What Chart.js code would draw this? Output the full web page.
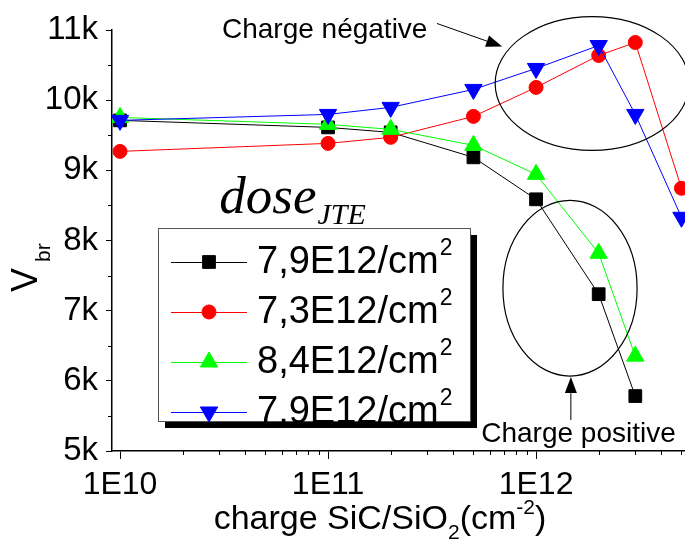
<!DOCTYPE html>
<html>
<head>
<meta charset="utf-8">
<script src="https://cdn.jsdelivr.net/npm/chart.js@4/dist/chart.umd.min.js"></script>
<style>
  html, body { margin: 0; padding: 0; background: #fff; }
  #wrap { width: 685px; height: 542px; }
</style>
</head>
<body>
<div id="wrap"><canvas id="chart" width="685" height="542"></canvas></div>
<script>
// charge SiC/SiO2 (cm-2)
const chargeShort = [1e10, 1e11, 2e11, 5e11, 1e12, 2e12, 3e12];
const chargeLong = [1e10, 1e11, 2e11, 5e11, 1e12, 2e12, 3e12, 5e12];

// Vbr (V) per JTE dose
const vbrBlack = [9712, 9612, 9541, 9185, 8587, 7235, 5783];
const vbrRed = [9270, 9384, 9470, 9769, 10182, 10637, 10822, 8744];
const vbrGreen = [9754, 9655, 9584, 9356, 8943, 7818, 6352];
const vbrBlue = [9712, 9797, 9897, 10153, 10452, 10779, 9797, 8331];

const doseLabels = ["7,9E12", "7,3E12", "8,4E12", "7,9E12"];
const xTickValues = [1e10, 1e11, 1e12];
const xTickLabels = ["1E10", "1E11", "1E12"];

const SANS = '"Liberation Sans", Arial, sans-serif';
const SERIF = '"Liberation Serif", "Times New Roman", serif';

// annotation shapes, in data units (charge, volts)
const ellipseNeg = { xMin: 6.36e11, xMax: 5.44e12, yMin: 9285, yMax: 11192 };
const ellipsePos = { xMin: 6.93e11, xMax: 3.06e12, yMin: 6068, yMax: 8573 };
const arrowNeg = { x1: 3.34e11, y1: 11093, x2: 6.87e11, y2: 10765 };
const arrowPos = { x1: 1.47e12, y1: 5441, x2: 1.47e12, y2: 6053 };
const textNeg = { x: 3.09e10, y: 10893, text: "Charge négative" };
const textPos = { x: 5.45e11, y: 5128, text: "Charge positive" };
const textDose = { x: 3.0e10, y: 8388 };

function pts(xs, ys) {
  return ys.map((v, i) => ({ x: xs[i], y: v }));
}

const seriesStyle = [
  { color: "#000000", style: "rect", radius: 9, rotation: 0 },
  { color: "#ff0000", style: "circle", radius: 7, rotation: 0 },
  { color: "#00ff00", style: "triangle", radius: 10, rotation: 0 },
  { color: "#0000ff", style: "triangle", radius: 10, rotation: 180 },
];

const seriesData = [
  pts(chargeShort, vbrBlack),
  pts(chargeLong, vbrRed),
  pts(chargeShort, vbrGreen),
  pts(chargeLong, vbrBlue),
];

const datasets = seriesData.map((data, i) => {
  const s = seriesStyle[i];
  return {
    label: doseLabels[i],
    data,
    order: 3 - i,
    borderColor: s.color,
    backgroundColor: s.color,
    borderWidth: 1,
    tension: 0,
    pointStyle: s.style,
    pointRotation: s.rotation,
    pointRadius: s.radius,
    pointHoverRadius: s.radius,
    pointBorderWidth: 1,
    pointBorderColor: s.color,
    pointBackgroundColor: s.color,
  };
});

function arrow(ctx, x1, y1, x2, y2) {
  const ang = Math.atan2(y2 - y1, x2 - x1);
  const len = 16, half = 6;
  const bx = x2 - Math.cos(ang) * len, by = y2 - Math.sin(ang) * len;
  ctx.beginPath();
  ctx.moveTo(x1, y1);
  ctx.lineTo(bx, by);
  ctx.stroke();
  ctx.beginPath();
  ctx.moveTo(x2, y2);
  ctx.lineTo(bx + Math.sin(ang) * half, by - Math.cos(ang) * half);
  ctx.lineTo(bx - Math.sin(ang) * half, by + Math.cos(ang) * half);
  ctx.closePath();
  ctx.fill();
}

function ellipse(ctx, x, y, e) {
  const l = x.getPixelForValue(e.xMin), r = x.getPixelForValue(e.xMax);
  const t = y.getPixelForValue(e.yMax), b = y.getPixelForValue(e.yMin);
  ctx.beginPath();
  ctx.ellipse((l + r) / 2, (t + b) / 2, (r - l) / 2, (b - t) / 2, 0, 0, Math.PI * 2);
  ctx.stroke();
}

const legendBox = { left: 158, top: 228, width: 312, height: 193, shadow: 7, rowGap: 50 };

const decor = {
  id: "decor",
  afterDraw(chart) {
    const { ctx, scales: { x, y }, chartArea: a } = chart;
    ctx.save();
    ctx.strokeStyle = "#000";
    ctx.fillStyle = "#000";
    ctx.lineWidth = 1;

    // minor ticks
    ctx.beginPath();
    for (let d = 9; d <= 12; d++) {
      for (let m = 2; m <= 9; m++) {
        const v = m * Math.pow(10, d);
        if (v < x.min || v > x.max) continue;
        const px = Math.round(x.getPixelForValue(v)) + 0.5;
        ctx.moveTo(px, a.bottom);
        ctx.lineTo(px, a.bottom + 4);
      }
    }
    for (let v = 5500; v < 11000; v += 1000) {
      const py = Math.round(y.getPixelForValue(v)) + 0.5;
      ctx.moveTo(a.left, py);
      ctx.lineTo(a.left - 4, py);
    }
    ctx.stroke();

    // axis titles
    ctx.save();
    ctx.translate(37, 292);
    ctx.rotate(-Math.PI / 2);
    ctx.textBaseline = "alphabetic";
    ctx.font = "36px " + SANS;
    ctx.fillText("V", 0, 0);
    ctx.font = "21px " + SANS;
    ctx.fillText("br", 30, 13);
    ctx.restore();

    const parts = [
      { t: "charge SiC/SiO", size: 34, dy: 0 },
      { t: "2", size: 21, dy: 10 },
      { t: "(cm", size: 34, dy: 0 },
      { t: "-2", size: 21, dy: -15 },
      { t: ")", size: 34, dy: 0 },
    ];
    let total = 0;
    for (const p of parts) {
      ctx.font = p.size + "px " + SANS;
      p.w = ctx.measureText(p.t).width;
      total += p.w;
    }
    let cx = 380 - total / 2;
    ctx.textBaseline = "alphabetic";
    for (const p of parts) {
      ctx.font = p.size + "px " + SANS;
      ctx.fillText(p.t, cx, 529 + p.dy);
      cx += p.w;
    }

    // annotations
    ctx.lineWidth = 1.2;
    ellipse(ctx, x, y, ellipseNeg);
    ellipse(ctx, x, y, ellipsePos);
    ctx.lineWidth = 1;
    arrow(ctx, x.getPixelForValue(arrowNeg.x1), y.getPixelForValue(arrowNeg.y1),
      x.getPixelForValue(arrowNeg.x2), y.getPixelForValue(arrowNeg.y2));
    arrow(ctx, x.getPixelForValue(arrowPos.x1), y.getPixelForValue(arrowPos.y1),
      x.getPixelForValue(arrowPos.x2), y.getPixelForValue(arrowPos.y2));

    ctx.font = "28px " + SANS;
    ctx.textAlign = "left";
    ctx.fillText(textNeg.text, x.getPixelForValue(textNeg.x), y.getPixelForValue(textNeg.y));
    ctx.fillText(textPos.text, x.getPixelForValue(textPos.x), y.getPixelForValue(textPos.y));

    const dx = x.getPixelForValue(textDose.x), dy = y.getPixelForValue(textDose.y);
    ctx.font = "italic 53px " + SERIF;
    ctx.fillText("dose", dx, dy);
    const dw = ctx.measureText("dose").width;
    ctx.font = "italic 30px " + SERIF;
    ctx.fillText("JTE", dx + dw + 1, dy + 11);

    // legend with drop shadow
    const L = legendBox;
    ctx.fillStyle = "#000";
    ctx.fillRect(L.left + L.shadow, L.top + L.shadow, L.width, L.height);
    ctx.fillStyle = "#fff";
    ctx.fillRect(L.left, L.top, L.width, L.height);
    ctx.strokeStyle = "#555";
    ctx.strokeRect(L.left + 0.5, L.top + 0.5, L.width, L.height);
    chart.data.datasets.forEach((ds, i) => {
      const ry = L.top + 34 + i * L.rowGap;
      ctx.strokeStyle = ds.borderColor;
      ctx.lineWidth = 1;
      ctx.beginPath();
      ctx.moveTo(L.left + 13, ry + 0.5);
      ctx.lineTo(L.left + 89, ry + 0.5);
      ctx.stroke();
      ctx.fillStyle = ds.pointBackgroundColor;
      Chart.helpers.drawPoint(ctx, {
        pointStyle: ds.pointStyle,
        rotation: ds.pointRotation,
        radius: ds.pointRadius,
        borderWidth: 1,
      }, L.left + 51, ry);
      ctx.fillStyle = "#000";
      ctx.textBaseline = "middle";
      ctx.font = "38px " + SANS;
      const lbl = ds.label + "/cm";
      ctx.fillText(lbl, L.left + 99, ry + 1);
      const lw = ctx.measureText(lbl).width;
      ctx.font = "23px " + SANS;
      ctx.fillText("2", L.left + 100 + lw, ry - 13);
    });
    ctx.restore();
  },
};

new Chart(document.getElementById("chart"), {
  type: "line",
  data: { datasets },
  options: {
    responsive: false,
    devicePixelRatio: 1,
    animation: false,
    layout: { autoPadding: false, padding: { top: 30, right: 0, bottom: 0, left: 0 } },
    plugins: { legend: { display: false }, tooltip: { enabled: false } },
    scales: {
      x: {
        type: "logarithmic",
        bounds: "data",
        min: 9.15e9,
        max: 5.2e12,
        afterBuildTicks: (s) => { s.ticks = xTickValues.map((v) => ({ value: v })); },
        afterFit: (s) => { s.height = 91; },
        ticks: {
          autoSkip: false,
          maxRotation: 0,
          padding: 7,
          color: "#000",
          font: { family: SANS, size: 32 },
          callback: (v, i) => xTickLabels[i],
        },
        grid: { drawOnChartArea: false, drawTicks: true, tickLength: 8, color: "#000", lineWidth: 1 },
        border: { display: true, color: "#000", width: 1.5 },
      },
      y: {
        min: 5000,
        max: 11000,
        afterFit: (s) => { s.width = 112; },
        ticks: {
          stepSize: 1000,
          padding: 8,
          color: "#000",
          font: { family: SANS, size: 33 },
          callback: (v) => v / 1000 + "k",
        },
        grid: { drawOnChartArea: false, drawTicks: true, tickLength: 6, color: "#000", lineWidth: 1 },
        border: { display: true, color: "#000", width: 1.5 },
      },
    },
  },
  plugins: [decor],
});
</script>
</body>
</html>
